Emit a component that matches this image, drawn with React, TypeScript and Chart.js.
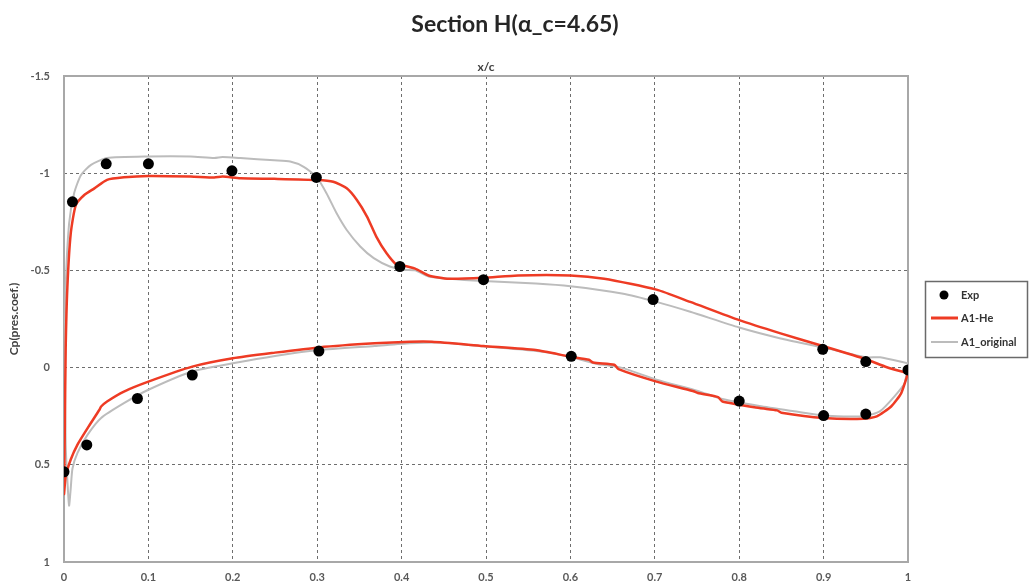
import { useEffect, useRef } from "react";
import { Chart, registerables } from "chart.js";

Chart.register(...registerables);

const titleText = "Section H(α_c=4.65)";
const xAxisTitle = "x/c";
const yAxisTitle = "Cp(pres.coef.)";
const seriesNames = ["Exp", "A1-He", "A1_original"];

// Experimental points
const expX = [0.0, 0.027, 0.087, 0.152, 0.302, 0.601, 0.8, 0.9, 0.95, 0.01, 0.05, 0.1, 0.199, 0.299, 0.398, 0.497, 0.698, 0.899, 0.95, 1.0];
const expY = [0.536, 0.398, 0.159, 0.038, -0.085, -0.058, 0.172, 0.247, 0.239, -0.853, -1.048, -1.048, -1.012, -0.978, -0.52, -0.452, -0.35, -0.094, -0.031, 0.012];

// A1-He (TE -> upper -> LE -> lower -> TE)
const heX = [1.0, 0.975, 0.95, 0.899, 0.849, 0.8, 0.742, 0.702, 0.64, 0.6, 0.538, 0.497, 0.456, 0.432, 0.416, 0.4, 0.394, 0.382, 0.37, 0.359, 0.347, 0.335, 0.319, 0.3, 0.249, 0.209, 0.188, 0.178, 0.15, 0.1, 0.071, 0.051, 0.036, 0.024, 0.014, 0.008, 0.004, 0.002, 0.001, 0.0, 0.002, 0.008, 0.016, 0.028, 0.042, 0.044, 0.051, 0.071, 0.1, 0.152, 0.2, 0.25, 0.302, 0.368, 0.41, 0.436, 0.497, 0.559, 0.6, 0.622, 0.627, 0.652, 0.657, 0.702, 0.745, 0.751, 0.775, 0.78, 0.824, 0.845, 0.85, 0.9, 0.947, 0.963, 0.98, 0.992, 1.0];
const heY = [0.029, -0.002, -0.043, -0.111, -0.176, -0.244, -0.338, -0.401, -0.457, -0.474, -0.474, -0.462, -0.457, -0.474, -0.509, -0.526, -0.529, -0.589, -0.674, -0.777, -0.862, -0.922, -0.956, -0.965, -0.971, -0.974, -0.983, -0.978, -0.983, -0.986, -0.979, -0.966, -0.922, -0.888, -0.836, -0.69, -0.414, -0.1, 0.3, 0.65, 0.56, 0.473, 0.396, 0.311, 0.217, 0.2, 0.174, 0.123, 0.072, -0.005, -0.048, -0.077, -0.104, -0.125, -0.133, -0.133, -0.111, -0.09, -0.056, -0.04, -0.026, -0.015, 0.008, 0.072, 0.12, 0.131, 0.152, 0.174, 0.208, 0.22, 0.232, 0.259, 0.263, 0.251, 0.2, 0.131, 0.029];

// A1_original (TE -> upper -> LE -> lower -> TE)
const origX = [1.0, 0.967, 0.95, 0.899, 0.849, 0.8, 0.742, 0.702, 0.661, 0.6, 0.559, 0.497, 0.456, 0.432, 0.416, 0.402, 0.386, 0.367, 0.351, 0.335, 0.323, 0.311, 0.299, 0.284, 0.268, 0.249, 0.209, 0.188, 0.178, 0.15, 0.1, 0.051, 0.032, 0.02, 0.012, 0.006, 0.002, 0.001, 0.002, 0.004, 0.006, 0.008, 0.01, 0.016, 0.028, 0.044, 0.071, 0.1, 0.152, 0.2, 0.25, 0.302, 0.368, 0.41, 0.45, 0.5, 0.56, 0.6, 0.63, 0.66, 0.702, 0.751, 0.78, 0.824, 0.865, 0.9, 0.947, 0.967, 0.984, 0.996, 1.0];
const origY = [-0.022, -0.053, -0.053, -0.104, -0.15, -0.206, -0.287, -0.338, -0.381, -0.418, -0.432, -0.445, -0.457, -0.469, -0.5, -0.503, -0.52, -0.563, -0.623, -0.708, -0.794, -0.897, -0.982, -1.033, -1.06, -1.066, -1.078, -1.083, -1.078, -1.086, -1.086, -1.078, -1.043, -0.99, -0.897, -0.74, -0.414, 0.0, 0.4, 0.58, 0.71, 0.62, 0.52, 0.439, 0.345, 0.259, 0.183, 0.114, 0.02, -0.022, -0.06, -0.09, -0.111, -0.125, -0.128, -0.108, -0.085, -0.055, -0.02, 0.0, 0.062, 0.12, 0.162, 0.198, 0.225, 0.247, 0.251, 0.224, 0.148, 0.08, -0.022];

const xMin = 0, xMax = 1, xStep = 0.1;
const yMin = -1.5, yMax = 1, yStep = 0.5;

const zip = (xs: number[], ys: number[]) => xs.map((x, i) => ({ x, y: ys[i] }));
const fmt = (v: number | string) => String(Math.round(Number(v) * 10) / 10);

const FONT = "Lato, 'Open Sans', sans-serif";
const RED = "#ee3b24";
const GRAY = "#bcbcbc";

const decorPlugin = {
  id: "decor",
  beforeDatasetsDraw(chart: any) {
    const { ctx, chartArea } = chart;
    ctx.save();
    ctx.strokeStyle = "#a8a8a8";
    ctx.lineWidth = 2;
    ctx.setLineDash([]);
    ctx.strokeRect(chartArea.left, chartArea.top, chartArea.right - chartArea.left, chartArea.bottom - chartArea.top);
    ctx.restore();
  },
  afterDraw(chart: any) {
    const { ctx, chartArea } = chart;
    ctx.save();
    // title
    ctx.fillStyle = "#262626";
    ctx.font = `bold 23px ${FONT}`;
    ctx.textAlign = "center";
    ctx.textBaseline = "middle";
    ctx.fillText(titleText, chart.width / 2, 25);
    // x axis title at top
    ctx.font = `bold 12px ${FONT}`;
    ctx.fillStyle = "#404040";
    ctx.fillText(xAxisTitle, (chartArea.left + chartArea.right) / 2, 67);
    // y axis title
    ctx.save();
    ctx.translate(14, (chartArea.top + chartArea.bottom) / 2);
    ctx.rotate(-Math.PI / 2);
    ctx.fillText(yAxisTitle, 0, 0);
    ctx.restore();
    // legend
    const lx = 925, ly = 281, lw = 102, lh = 76;
    ctx.strokeStyle = "#6a6a6a";
    ctx.lineWidth = 1.5;
    ctx.strokeRect(lx + 0.5, ly + 0.5, lw, lh);
    ctx.font = `bold 11px ${FONT}`;
    ctx.textAlign = "left";
    const rows = [ly + 14, ly + 37, ly + 61];
    ctx.beginPath();
    ctx.arc(944, rows[0], 4.5, 0, Math.PI * 2);
    ctx.fillStyle = "#000";
    ctx.fill();
    ctx.fillStyle = "#333333";
    ctx.fillText(seriesNames[0], 961, rows[0]);
    ctx.strokeStyle = RED;
    ctx.lineWidth = 3;
    ctx.beginPath();
    ctx.moveTo(931, rows[1]);
    ctx.lineTo(958, rows[1]);
    ctx.stroke();
    ctx.fillText(seriesNames[1], 961, rows[1]);
    ctx.strokeStyle = GRAY;
    ctx.lineWidth = 2;
    ctx.beginPath();
    ctx.moveTo(931, rows[2]);
    ctx.lineTo(958, rows[2]);
    ctx.stroke();
    ctx.fillText(seriesNames[2], 961, rows[2]);
    ctx.restore();
  },
};

export default function App() {
  const ref = useRef<HTMLCanvasElement | null>(null);
  useEffect(() => {
    if (!ref.current) return;
    const chart = new Chart(ref.current, {
      type: "scatter",
      data: {
        datasets: [
          {
            label: seriesNames[0],
            data: zip(expX, expY),
            showLine: false,
            pointRadius: 5.5,
            pointBackgroundColor: "#000",
            pointBorderWidth: 0,
          },
          {
            label: seriesNames[1],
            data: zip(heX, heY),
            showLine: true,
            borderColor: RED,
            borderWidth: 2.5,
            pointRadius: 0,
            tension: 0.2,
          },
          {
            label: seriesNames[2],
            data: zip(origX, origY),
            showLine: true,
            borderColor: GRAY,
            borderWidth: 2,
            pointRadius: 0,
            tension: 0.2,
          },
        ],
      },
      options: {
        responsive: false,
        animation: false,
        layout: { padding: { top: 76, right: 122, left: 0, bottom: 0 } },
        plugins: { legend: { display: false }, tooltip: { enabled: false }, title: { display: false } },
        scales: {
          x: {
            type: "linear",
            min: xMin,
            max: xMax,
            ticks: { stepSize: xStep, color: "#595959", font: { family: FONT, size: 11, weight: "bold" }, padding: 9, callback: (v: any) => fmt(v) },
            grid: { color: "#6e6e6e", lineWidth: 1, drawTicks: false },
            border: { display: false, dash: [3, 3] },
            afterFit: (s: any) => { s.height = 23; },
          },
          y: {
            type: "linear",
            min: yMin,
            max: yMax,
            reverse: true,
            ticks: { stepSize: yStep, color: "#595959", font: { family: FONT, size: 11, weight: "bold" }, padding: 14, callback: (v: any) => fmt(v) },
            grid: { color: "#6e6e6e", lineWidth: 1, drawTicks: false },
            border: { display: false, dash: [3, 3] },
            afterFit: (s: any) => { s.width = 64; },
          },
        },
      },
      plugins: [decorPlugin],
    });
    return () => chart.destroy();
  }, []);
  return (
    <div style={{ position: "absolute", left: 0, top: 0, width: 1030, height: 585, background: "#fff" }}>
      <canvas ref={ref} width={1030} height={585} style={{ display: "block" }} />
    </div>
  );
}
